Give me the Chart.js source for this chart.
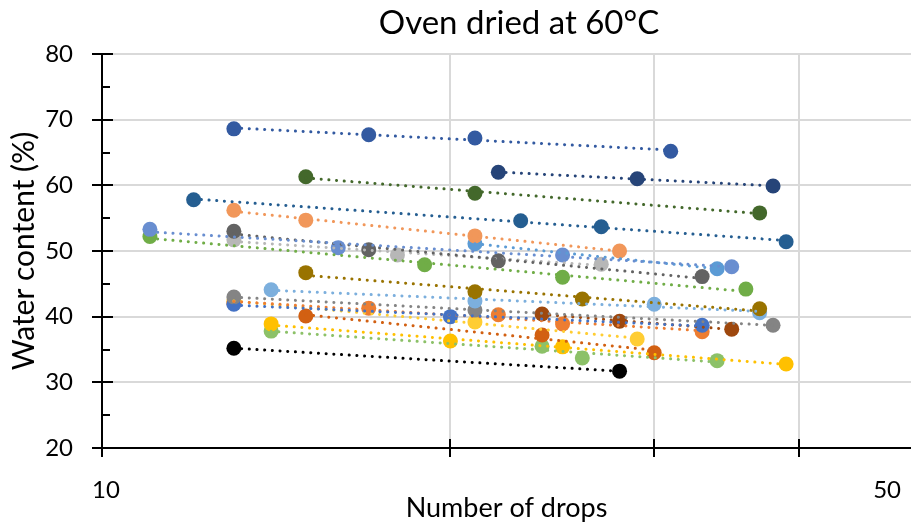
<!DOCTYPE html>
<html>
<head>
<meta charset="utf-8">
<script src="https://cdn.jsdelivr.net/npm/chart.js@4/dist/chart.umd.min.js"></script>
<style>
  html, body { margin: 0; padding: 0; background: #ffffff; }
  #wrap { width: 911px; height: 529px; position: relative; }
</style>
</head>
<body>
<div id="wrap"><canvas id="chart" width="911" height="529"></canvas></div>
<script>
// ---------- DATA ----------
const chartTitle = 'Oven dried at 60°C';
const xAxisTitle = 'Number of drops';
const yAxisTitle = 'Water content (%)';
const xTickValues = [10, 20, 30, 40, 50];
const xTickLabels = ['10', '', '', '', '50'];
const yTickValues = [20, 25, 30, 35, 40, 45, 50, 55, 60, 65, 70, 75, 80];

// each series: [number of drops, water content %]
const s01 = [[13, 68.6], [17, 67.7], [21, 67.2], [31, 65.2]];
const s02 = [[22, 62.0], [29, 61.0], [38, 59.9]];
const s03 = [[15, 61.3], [21, 58.8], [37, 55.8]];
const s04 = [[12, 57.8], [23, 54.6], [27, 53.7], [39, 51.4]];
const s05 = [[13, 56.2], [15, 54.7], [21, 52.3], [28, 50.0]];
const s06 = [[11, 53.3], [16, 50.5], [25, 49.4], [35, 47.6]];
const s07 = [[11, 52.2], [19, 47.9], [25, 46.0], [36, 44.2]];
const s08 = [[13, 53.0], [17, 50.2], [22, 48.5], [33, 46.1]];
const s09 = [[13, 51.7], [18, 49.4], [27, 48.0]];
const s10 = [[21, 51.1], [34, 47.3]];
const s11 = [[15, 46.7], [21, 43.8], [26, 42.7], [37, 41.2]];
const s12 = [[14, 44.1], [21, 42.4], [30, 41.9], [37, 40.6]];
const s13 = [[13, 43.0], [21, 41.0], [38, 38.7]];
const s14 = [[13, 41.9], [20, 40.0], [33, 38.7]];
const s15 = [[13, 42.0], [17, 41.3], [22, 40.3], [25, 38.9], [33, 37.7]];
const s16 = [[24, 40.4], [28, 39.3], [35, 38.1]];
const s17 = [[13, 42.3], [21, 39.2], [29, 36.6]];
const s18 = [[15, 40.1], [24, 37.2], [30, 34.5]];
const s19 = [[14, 38.9], [20, 36.3], [25, 35.4], [39, 32.8]];
const s20 = [[14, 37.8], [24, 35.5], [26, 33.7], [34, 33.3]];
const s21 = [[13, 35.2], [28, 31.7]];

const seriesList = [s01, s02, s03, s04, s05, s06, s07, s08, s09, s10, s11,
                    s12, s13, s14, s15, s16, s17, s18, s19, s20, s21];

// ---------- STYLES ----------
const palette = ['#335AA1', '#264478', '#43682B', '#255E91', '#F1975A', '#698ED0',
                 '#70AD47', '#636363', '#B7B7B7', '#5B9BD5', '#997300', '#7CAFDD',
                 '#848484', '#4472C4', '#ED7D31', '#9E480E', '#FFCD33', '#D26012',
                 '#FFC000', '#8CC168', '#000000'];
const FONT = 'Lato';
const TXT = '#000000';
const GRID = '#D9D9D9';

// logarithmic trend line (y = a ln x + b), drawn over the series' x range
function logTrend(pts) {
  const n = pts.length;
  let sx = 0, sy = 0, sxx = 0, sxy = 0;
  pts.forEach(([x, y]) => { const l = Math.log(x); sx += l; sy += y; sxx += l * l; sxy += l * y; });
  const a = (n * sxy - sx * sy) / (n * sxx - sx * sx);
  const b = (sy - a * sx) / n;
  const xs = pts.map(p => p[0]);
  const x0 = Math.min(...xs), x1 = Math.max(...xs);
  return [{ x: x0, y: a * Math.log(x0) + b }, { x: x1, y: a * Math.log(x1) + b }];
}

const datasets = [];
seriesList.forEach((pts, i) => {
  datasets.push({
    type: 'scatter',
    label: 'Series ' + (i + 1),
    data: pts.map(p => ({ x: p[0], y: p[1] })),
    backgroundColor: palette[i],
    borderColor: palette[i],
    pointRadius: 7.5,
    pointBorderWidth: 0,
    showLine: false,
    order: 2
  });
});
seriesList.forEach((pts, i) => {
  datasets.push({
    type: 'line',
    label: 'Trend ' + (i + 1),
    data: logTrend(pts),
    borderColor: palette[i],
    backgroundColor: palette[i],
    borderWidth: 3,
    borderDash: [0.1, 7.6],
    borderCapStyle: 'round',
    pointRadius: 0,
    fill: false,
    tension: 0,
    order: 1
  });
});

const decor = {
  id: 'decor',
  afterDraw(chart) {
    const ctx = chart.ctx;
    const xs = chart.scales.x, ys = chart.scales.y;
    const ca = chart.chartArea;
    ctx.save();
    ctx.strokeStyle = '#000';
    ctx.lineWidth = 2;
    ctx.beginPath();
    yTickValues.forEach(v => {
      const py = Math.round(ys.getPixelForValue(v));
      const len = v % 10 === 0 ? 11 : 8;
      ctx.moveTo(ca.left, py); ctx.lineTo(ca.left + len, py);
    });
    xTickValues.slice(0, 4).forEach(v => {
      const px = Math.round(xs.getPixelForValue(v));
      ctx.moveTo(px, ca.bottom); ctx.lineTo(px, ca.bottom - 9);
    });
    ctx.stroke();
    ctx.fillStyle = TXT;
    ctx.font = '33px ' + FONT;
    ctx.textAlign = 'center';
    ctx.textBaseline = 'middle';
    ctx.fillText(chartTitle, 519, 23);
    ctx.restore();
  }
};

new Chart(document.getElementById('chart'), {
  type: 'scatter',
  data: { datasets },
  plugins: [decor],
  options: {
    responsive: false,
    devicePixelRatio: 1,
    animation: false,
    layout: { autoPadding: false, padding: { top: 54, left: 0, right: 0, bottom: 0 } },
    plugins: { legend: { display: false }, tooltip: { enabled: false }, title: { display: false } },
    scales: {
      x: {
        type: 'logarithmic',
        min: 10, max: 50,
        afterBuildTicks: (sc) => { sc.ticks = xTickValues.map(v => ({ value: v })); },
        afterFit: (sc) => { sc.height = 81; sc.paddingLeft = 0; sc.paddingRight = 0; },
        ticks: {
          callback: (v) => { const i = xTickValues.indexOf(v); return i >= 0 ? xTickLabels[i] : ''; },
          align: 'inner', labelOffset: -10, padding: 19, autoSkip: false, maxRotation: 0,
          font: { family: FONT, size: 24 }, color: TXT
        },
        grid: {
          color: (c) => (c.tick && [20, 30, 40].includes(c.tick.value)) ? GRID : 'rgba(0,0,0,0)',
          lineWidth: 2, tickLength: 9, tickWidth: 2,
          tickColor: (c) => (c.tick && c.tick.value < 50) ? '#000' : 'rgba(0,0,0,0)'
        },
        border: { color: '#000', width: 2 },
        title: { display: true, text: xAxisTitle, color: TXT, font: { family: FONT, size: 27 }, padding: { top: 0, bottom: 5 } }
      },
      y: {
        min: 20, max: 80,
        afterBuildTicks: (sc) => { sc.ticks = yTickValues.map(v => ({ value: v })); },
        afterFit: (sc) => { sc.width = 102; },
        ticks: {
          callback: (v) => (v % 10 === 0 ? String(v) : ''),
          padding: 19, autoSkip: false,
          font: { family: FONT, size: 24 }, color: TXT
        },
        grid: {
          color: (c) => (c.tick && c.tick.value % 10 === 0 && c.tick.value > 20) ? GRID : 'rgba(0,0,0,0)',
          lineWidth: 2, tickLength: 10, tickWidth: 2,
          tickColor: (c) => (c.tick && c.tick.value % 10 === 0) ? '#000' : 'rgba(0,0,0,0)'
        },
        border: { color: '#000', width: 2 },
        title: { display: true, text: yAxisTitle, color: TXT, font: { family: FONT, size: 30 }, padding: { top: 6, bottom: 0 } }
      }
    }
  }
});
</script>
</body>
</html>
